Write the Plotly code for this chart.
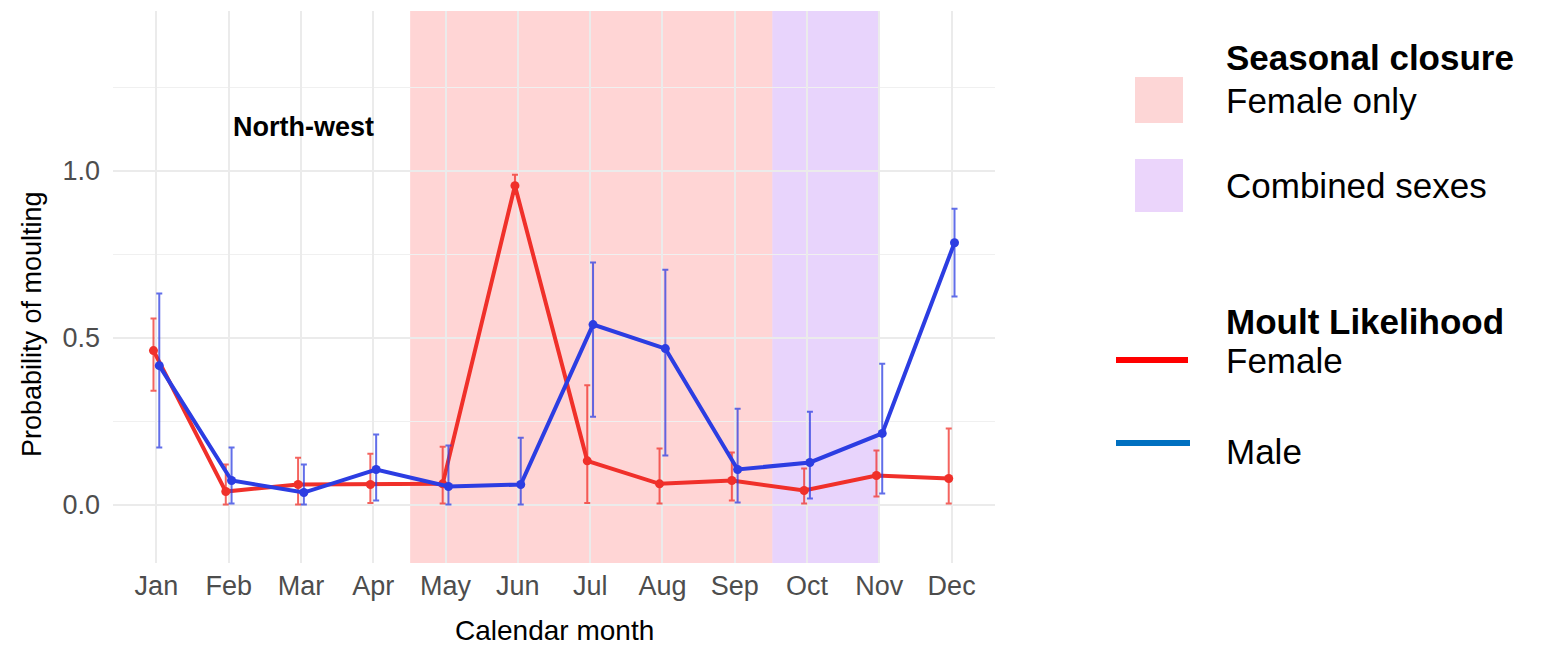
import plotly.graph_objects as go

# Monthly moult probability with confidence limits (North-west)
months = ["Jan", "Feb", "Mar", "Apr", "May", "Jun", "Jul", "Aug", "Sep", "Oct", "Nov", "Dec"]
month_num = list(range(1, 13))

female_prob = [0.461, 0.039, 0.060, 0.060, 0.062, 0.955, 0.131, 0.062, 0.072, 0.042, 0.087, 0.078]
female_lo = [0.341, 0.000, 0.000, 0.005, 0.003, 0.930, 0.005, 0.003, 0.012, 0.003, 0.024, 0.003]
female_hi = [0.557, 0.120, 0.140, 0.152, 0.173, 0.988, 0.357, 0.168, 0.156, 0.108, 0.162, 0.228]

male_prob = [0.416, 0.072, 0.036, 0.105, 0.054, 0.060, 0.539, 0.467, 0.105, 0.126, 0.213, 0.784]
male_lo = [0.171, 0.003, 0.000, 0.012, 0.000, 0.000, 0.263, 0.147, 0.006, 0.018, 0.033, 0.623]
male_hi = [0.632, 0.171, 0.120, 0.210, 0.177, 0.200, 0.725, 0.703, 0.287, 0.278, 0.422, 0.886]

# Closure periods (month positions)
female_closure = (4.51, 9.52)
combined_closure = (9.52, 11.0)

RED = "#f0302a"
BLUE = "#2c3de2"
FONT = "Liberation Sans, Arial, sans-serif"

dodge = 0.04


def errs(prob, lo, hi):
    plus = [h - p for p, h in zip(prob, hi)]
    minus = [p - l for p, l in zip(prob, lo)]
    return plus, minus


fig = go.Figure()

for name, prob, lo, hi, col, off in [
    ("Female", female_prob, female_lo, female_hi, RED, -dodge),
    ("Male", male_prob, male_lo, male_hi, BLUE, dodge),
]:
    plus, minus = errs(prob, lo, hi)
    rgb = tuple(int(col[i:i + 2], 16) for i in (1, 3, 5))
    fig.add_trace(go.Scatter(
        x=[m + off for m in month_num], y=prob, name=name,
        mode="lines+markers",
        line=dict(color=col, width=4),
        marker=dict(color=col, size=9),
        error_y=dict(type="data", array=plus, arrayminus=minus, visible=True,
                     color="rgba(%d,%d,%d,0.75)" % rgb, thickness=2, width=3),
        showlegend=False, hoverinfo="skip",
    ))

# Shaded closure periods
fig.add_shape(type="rect", xref="x", yref="paper", x0=female_closure[0], x1=female_closure[1],
              y0=0, y1=1, fillcolor="rgba(255,0,0,0.165)", line=dict(width=0), layer="between")
fig.add_shape(type="rect", xref="x", yref="paper", x0=combined_closure[0], x1=combined_closure[1],
              y0=0, y1=1, fillcolor="rgba(150,60,240,0.22)", line=dict(width=0), layer="between")

W, H = 1549, 646
L, R, T, B = 113, 995, 11, 563


# paper coordinates are relative to the plot area
def px(x):
    return (x - L) / (R - L)


def py(y):
    return (B - y) / (B - T)


annotations = []


def text(s, x, y, size, bold=False, color="#000000", xanchor="left", angle=0):
    annotations.append(dict(
        text="<b>%s</b>" % s if bold else s, xref="paper", yref="paper",
        x=px(x), y=py(y), xanchor=xanchor, yanchor="middle", showarrow=False,
        textangle=angle, font=dict(family=FONT, size=size, color=color)))


text("North-west", 303, 127, 27, bold=True, xanchor="center")
text("Calendar month", 554, 630, 28, xanchor="center")
text("Probability of moulting", 32, 324, 27, xanchor="center", angle=-90)

# Legend panel
text("Seasonal closure", 1224, 57, 35, bold=True)
text("Female only", 1224, 100, 35)
text("Combined sexes", 1224, 186, 35)
text("Moult Likelihood", 1224, 321, 35, bold=True)
text("Female", 1224, 361, 35)
text("Male", 1224, 451, 35)

shapes_paper = [
    dict(type="rect", x0=px(1135), x1=px(1183), y0=py(123), y1=py(77),
         fillcolor="#fdd6d6", line=dict(width=0)),
    dict(type="rect", x0=px(1135), x1=px(1183), y0=py(212), y1=py(159),
         fillcolor="#ebd5fb", line=dict(width=0)),
    dict(type="line", x0=px(1116), x1=px(1188), y0=py(360), y1=py(360),
         line=dict(color="#ff0000", width=6)),
    dict(type="line", x0=px(1116), x1=px(1190), y0=py(443), y1=py(443),
         line=dict(color="#0070c0", width=6)),
]
for s in shapes_paper:
    fig.add_shape(xref="paper", yref="paper", **s)

fig.update_layout(
    width=W, height=H,
    margin=dict(l=L, r=W - R, t=T, b=H - B, pad=0),
    paper_bgcolor="white", plot_bgcolor="white",
    annotations=annotations,
    font=dict(family=FONT),
    xaxis=dict(
        range=[0.4, 12.6], tickvals=month_num, ticktext=months,
        showgrid=True, gridcolor="#ebebeb", gridwidth=1.5, zeroline=False,
        showline=False, ticks="", ticklabelstandoff=4,
        tickfont=dict(family=FONT, size=27, color="#4d4d4d"),
    ),
    yaxis=dict(
        range=[-0.175, 1.478], tickvals=[0, 0.5, 1.0], ticktext=["0.0", "0.5", "1.0"],
        showgrid=True, gridcolor="#ebebeb", gridwidth=1.5, zeroline=False,
        showline=False, ticks="", ticklabelstandoff=12,
        tickfont=dict(family=FONT, size=27, color="#4d4d4d"),
        minor=dict(tickvals=[0.25, 0.75, 1.25], showgrid=True, gridcolor="#f0f0f0", gridwidth=1.2),
    ),
)

fig.write_html("out.html")
